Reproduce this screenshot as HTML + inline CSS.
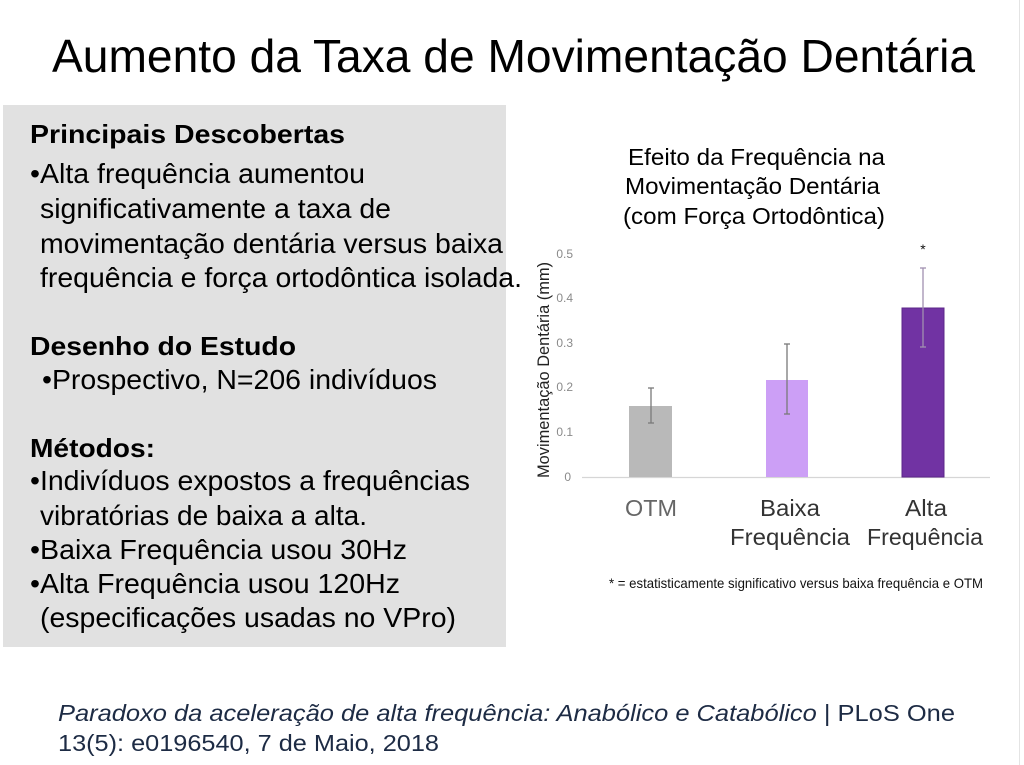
<!DOCTYPE html>
<html>
<head>
<meta charset="utf-8">
<style>
html,body{margin:0;padding:0;background:#fff;}
body{width:1024px;height:765px;overflow:hidden;}
svg{display:block;}
text{font-family:"Liberation Sans",Arial,sans-serif;}
</style>
</head>
<body>
<svg width="1024" height="765" viewBox="0 0 1024 765" xmlns="http://www.w3.org/2000/svg">
  <rect x="0" y="0" width="1024" height="765" fill="#ffffff"/>
  <line x1="1019.5" y1="0" x2="1019.5" y2="765" stroke="#e4e4e4" stroke-width="1"/>

  <!-- Title -->
  <text x="52" y="72" font-size="46" fill="#000" textLength="923" lengthAdjust="spacingAndGlyphs">Aumento da Taxa de Movimentação Dentária</text>

  <!-- Gray box -->
  <rect x="3" y="105" width="503" height="542" fill="#e1e1e1"/>

  <g fill="#000" font-size="28">
    <text x="30" y="143" font-weight="bold" font-size="26" textLength="315" lengthAdjust="spacingAndGlyphs">Principais Descobertas</text>
    <text x="30" y="183" textLength="335" lengthAdjust="spacingAndGlyphs">•Alta frequência aumentou</text>
    <text x="40" y="218" textLength="351" lengthAdjust="spacingAndGlyphs">significativamente a taxa de</text>
    <text x="40" y="253" textLength="463" lengthAdjust="spacingAndGlyphs">movimentação dentária versus baixa</text>
    <text x="40" y="287" textLength="482" lengthAdjust="spacingAndGlyphs">frequência e força ortodôntica isolada.</text>
    <text x="30" y="355" font-weight="bold" font-size="26" textLength="266" lengthAdjust="spacingAndGlyphs">Desenho do Estudo</text>
    <text x="42" y="389" textLength="395" lengthAdjust="spacingAndGlyphs">•Prospectivo, N=206 indivíduos</text>
    <text x="30" y="457" font-weight="bold" font-size="26" textLength="125" lengthAdjust="spacingAndGlyphs">Métodos:</text>
    <text x="30" y="490" textLength="440" lengthAdjust="spacingAndGlyphs">•Indivíduos expostos a frequências</text>
    <text x="40" y="525" textLength="327" lengthAdjust="spacingAndGlyphs">vibratórias de baixa a alta.</text>
    <text x="30" y="559" textLength="377" lengthAdjust="spacingAndGlyphs">•Baixa Frequência usou 30Hz</text>
    <text x="30" y="593" textLength="370" lengthAdjust="spacingAndGlyphs">•Alta Frequência usou 120Hz</text>
    <text x="40" y="627" textLength="416" lengthAdjust="spacingAndGlyphs">(especificações usadas no VPro)</text>
  </g>

  <!-- Chart title -->
  <g fill="#000" font-size="23" text-anchor="start">
    <text x="628" y="165" textLength="257" lengthAdjust="spacingAndGlyphs">Efeito da Frequência na</text>
    <text x="625" y="194" textLength="255" lengthAdjust="spacingAndGlyphs">Movimentação Dentária</text>
    <text x="623" y="224" textLength="262" lengthAdjust="spacingAndGlyphs">(com Força Ortodôntica)</text>
  </g>

  <!-- Y axis label -->
  <text transform="translate(549,370) rotate(-90)" text-anchor="middle" font-size="17" fill="#222" textLength="216" lengthAdjust="spacingAndGlyphs">Movimentação Dentária (mm)</text>

  <!-- Y ticks -->
  <g font-size="12" fill="#8a8a8a" text-anchor="end">
    <text x="573" y="258">0.5</text>
    <text x="573" y="302">0.4</text>
    <text x="573" y="347">0.3</text>
    <text x="573" y="391">0.2</text>
    <text x="573" y="436">0.1</text>
    <text x="571" y="481">0</text>
  </g>

  <!-- Baseline -->
  <line x1="582" y1="477.5" x2="990" y2="477.5" stroke="#d6d6d6" stroke-width="1.2"/>

  <!-- Bars -->
  <rect x="629" y="406" width="43" height="71" fill="#b9b9b9"/>
  <rect x="766" y="380" width="42" height="97" fill="#cc9ff6"/>
  <rect x="902" y="308" width="42" height="169" fill="#7133a3" stroke="#5c2788" stroke-width="1"/>

  <!-- Error bars -->
  <g stroke="#7a7a7a" stroke-width="1.3" fill="none">
    <line x1="651" y1="388" x2="651" y2="423"/>
    <line x1="648" y1="388" x2="654" y2="388"/>
    <line x1="648" y1="423" x2="654" y2="423"/>
    <line x1="787" y1="344" x2="787" y2="414"/>
    <line x1="784" y1="344" x2="790" y2="344"/>
    <line x1="784" y1="414" x2="790" y2="414"/>
  </g>
  <g stroke="#a090b0" stroke-width="1.3" fill="none">
    <line x1="923" y1="268" x2="923" y2="347"/>
    <line x1="920" y1="268" x2="926" y2="268"/>
    <line x1="920" y1="347" x2="926" y2="347"/>
  </g>
  <text x="923" y="254" font-size="14" fill="#111" text-anchor="middle">*</text>

  <!-- X labels -->
  <g font-size="23" text-anchor="middle">
    <text x="651" y="516" fill="#666" textLength="52" lengthAdjust="spacingAndGlyphs">OTM</text>
    <text x="790" y="516" fill="#333" textLength="60" lengthAdjust="spacingAndGlyphs">Baixa</text>
    <text x="790" y="545" fill="#333" textLength="120" lengthAdjust="spacingAndGlyphs">Frequência</text>
    <text x="926" y="516" fill="#333" textLength="42" lengthAdjust="spacingAndGlyphs">Alta</text>
    <text x="925" y="545" fill="#333" textLength="116" lengthAdjust="spacingAndGlyphs">Frequência</text>
  </g>

  <!-- Footnote -->
  <text x="609" y="588" font-size="14" fill="#111" textLength="374" lengthAdjust="spacingAndGlyphs">* = estatisticamente significativo versus baixa frequência e OTM</text>

  <!-- Footer -->
  <text x="58" y="721" font-size="23" fill="#1d2b44" textLength="897" lengthAdjust="spacingAndGlyphs"><tspan font-style="italic">Paradoxo da aceleração de alta frequência: Anabólico e Catabólico</tspan> | PLoS One</text>
  <text x="58" y="751" font-size="23" fill="#1d2b44" textLength="381" lengthAdjust="spacingAndGlyphs">13(5): e0196540, 7 de Maio, 2018</text>
</svg>
</body>
</html>
